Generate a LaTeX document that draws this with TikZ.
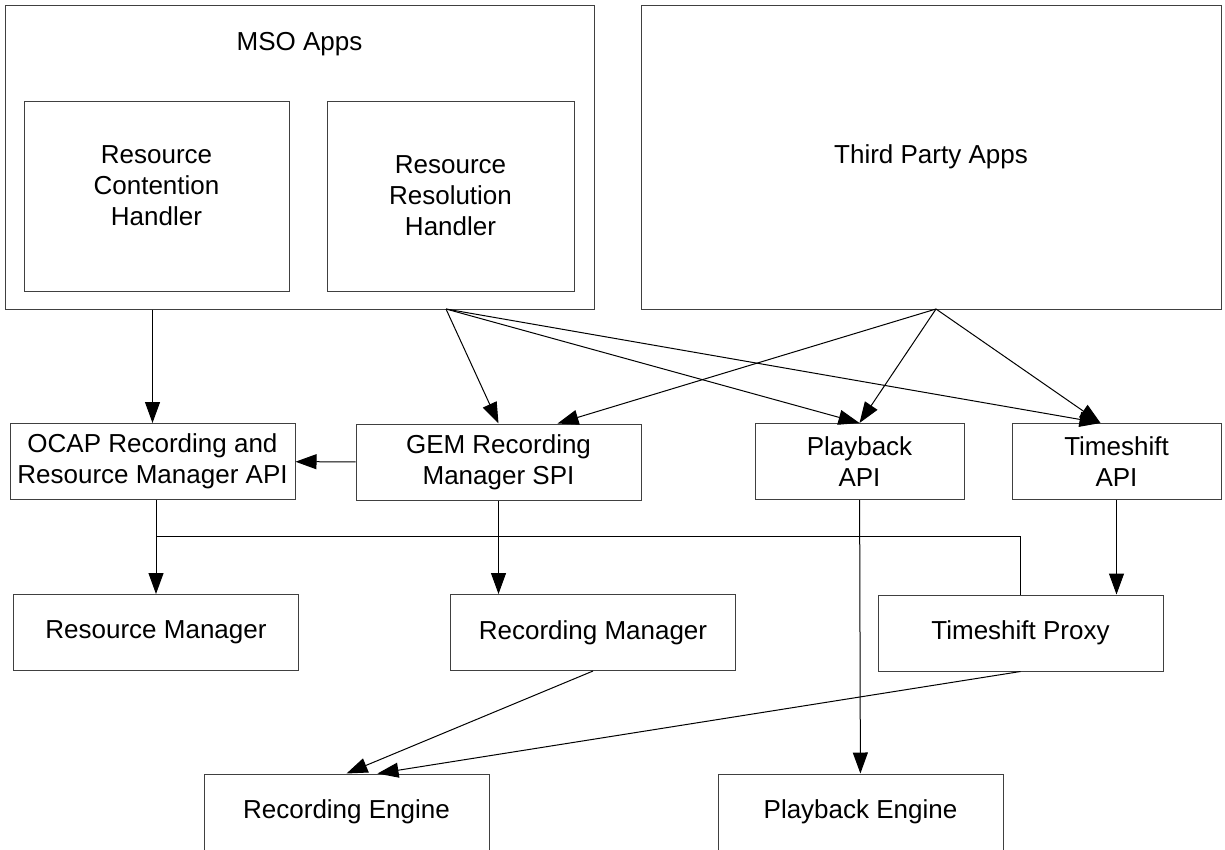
\documentclass[tikz,border=0pt]{standalone}
\usepackage{fontspec}
\setmainfont{Liberation Sans}
\usetikzlibrary{arrows.meta}

\tikzset{
	lbl/.style={font=\fontsize{26}{31}\selectfont, align=center},
	block/.style={lbl, draw=black!75, line width=1pt, inner sep=0pt},
	bigbox/.style={block, minimum width=285pt, minimum height=76pt},
	smallbox/.style={block, minimum width=209pt, minimum height=76pt}
}

\begin{document}
\begin{tikzpicture}[->, >={Triangle[length=21pt, width=15pt]}, x=1pt, y=-1pt, line width=1pt]
		\useasboundingbox (0, 0) rectangle (1225, 849);

		% apps on top
		\node[block, minimum width=589pt, minimum height=304pt] (mso) at (299.5, 157) {};
		\node[lbl] (msotitle) at (299.5, 44) {MSO Apps};
		\node[block, minimum width=265pt, minimum height=190pt,
			label={[lbl, yshift=10pt]center:Resource\\Contention\\Handler}] (rch) at (156.5, 196) {};
		\node[block, minimum width=247pt, minimum height=190pt] (rrh) at (450.5, 196) {Resource\\Resolution\\Handler};
		\node[block, minimum width=580pt, minimum height=304pt] (tpa) at (931, 157) {Third Party Apps};

		% APIs
		\node[bigbox] (ocap) at (152.5, 461.5) {OCAP Recording and\\Resource Manager API};
		\node[bigbox] (gem) at (498.5, 462) {GEM Recording\\Manager SPI};
		\node[smallbox] (pbapi) at (859.5, 461.5) {Playback\\API};
		\node[smallbox] (tsapi) at (1116.5, 461.5) {Timeshift\\API};

		% managers and engines
		\node[bigbox] (resmgr) at (156, 632.5) {Resource Manager};
		\node[bigbox] (recmgr) at (593, 632.5) {Recording Manager};
		\node[bigbox] (tsproxy) at (1020.5, 633) {Timeshift Proxy};
		\node[bigbox] (receng) at (346.5, 812) {Recording Engine};
		\node[bigbox] (pbeng) at (860.5, 812) {Playback Engine};

		\coordinate (msofan) at (446, 309);
		\coordinate (tpafan) at (936, 309);
		\coordinate (bus) at (0, 536);

		\path (mso.south -| ocap) edge (ocap)
			(msofan) edge (gem.north)
			(msofan) edge (pbapi.north)
			(msofan) edge ([xshift=-16pt]tsapi.north)
			(tpafan) edge ([xshift=59pt]gem.north)
			(tpafan) edge (pbapi.north)
			(tpafan) edge ([xshift=-16pt]tsapi.north)
			(gem) edge (ocap)
			(resmgr.north |- ocap.south) edge (resmgr)
			(gem) edge (gem |- recmgr.north)
			(pbapi) edge (pbeng)
			(tsapi) edge (tsapi |- tsproxy.north)
			(recmgr.south) edge (receng.north)
			(tsproxy.south) edge ([xshift=31pt]receng.north);
		\draw[-] (resmgr.north |- bus) -- (tsproxy.north |- bus) -- (tsproxy.north); % shared line
	\end{tikzpicture}
\end{document}
